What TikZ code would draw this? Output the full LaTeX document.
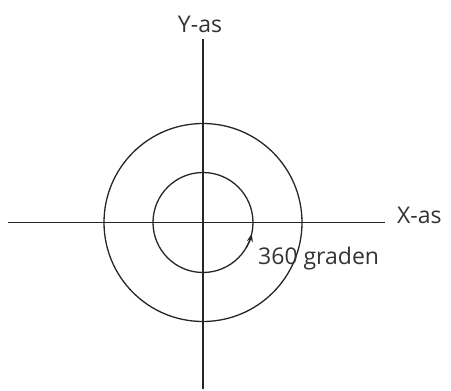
\documentclass[tikz,border=0pt]{standalone}
\usepackage{fontspec}
\setmainfont{Open Sans}
\usetikzlibrary{arrows.meta,positioning,calc}
\tikzset{
  >=Stealth,
  axis/.style={draw=black!85,line width=1.2pt},
  ring/.style={draw=black!85,line width=1.3pt},
  lbl/.style={font=\fontsize{23}{26}\selectfont,text=black!80,inner sep=0pt}
}

\begin{document}
\begin{tikzpicture}[x=1pt,y=-1pt]
\useasboundingbox (0,0) rectangle (451,391);
\coordinate (o) at (203,222.5);
\coordinate (ytop) at (203,39);
\coordinate (ybot) at (203,389);
\coordinate (xl) at (8,222.5);
\coordinate (xr) at (385,222.5);
% axes
\draw[axis] (ytop)--(ybot);
\draw[axis] (xl)--(xr);
% circles
\draw[ring] (o) circle[radius=99];
\draw[ring] (o) circle[radius=50];
\draw[ring,-{Stealth[length=8pt,width=6pt]}] (o) ++(30:50) arc[start angle=30,end angle=13,radius=50];
% labels
\node[lbl,anchor=base] (ylab) at (200,32) {Y-as};
\node[lbl,anchor=base west] (xlab) at (397,223) {X-as};
\node[lbl,anchor=base west] (deg) at (258,264) {360 graden};
\end{tikzpicture}
\end{document}
